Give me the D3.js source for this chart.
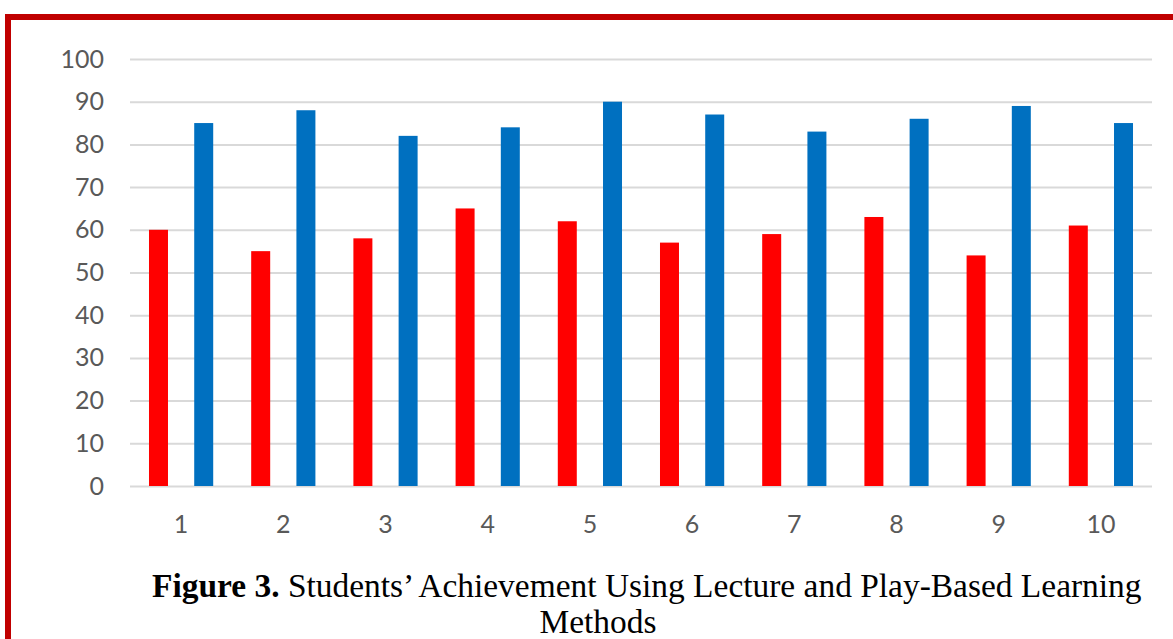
<!DOCTYPE html>
<html>
<head>
<meta charset="utf-8">
<script src="https://cdn.jsdelivr.net/npm/d3@7"></script>
<style>
  body { margin: 0; background: #fff; }
  svg { display: block; }
</style>
</head>
<body>
<svg width="1173" height="639"></svg>
<script>
// chart data
var students = ["1", "2", "3", "4", "5", "6", "7", "8", "9", "10"];
var lecture = [60, 55, 58, 65, 62, 57, 59, 63, 54, 61];
var playBased = [85, 88, 82, 84, 90, 87, 83, 86, 89, 85];
var yTicks = [0, 10, 20, 30, 40, 50, 60, 70, 80, 90, 100];

var svg = d3.select('svg');

svg.append('rect').attr('width', 1173).attr('height', 639).attr('fill', '#fff');

// dark red frame (top and left edges visible)
svg.append('line')
    .attr('x1', 5).attr('x2', 1173).attr('y1', 17).attr('y2', 17)
    .attr('stroke', '#c00000').attr('stroke-width', 6);
svg.append('line')
    .attr('x1', 8).attr('x2', 8).attr('y1', 14).attr('y2', 639)
    .attr('stroke', '#c00000').attr('stroke-width', 6);

var scaleX = d3.scaleBand().domain(students).range([130, 1152]);
var scaleSub = d3.scaleBand().domain(['lecture', 'play'])
    .range([0, scaleX.bandwidth()]).paddingInner(0.58).paddingOuter(0.42);
var scaleY = d3.scaleLinear().domain([0, 100]).range([486, 59]);

// gridlines + y labels
var yAxis = svg.append('g')
    .attr('transform', 'translate(130,0)')
    .call(d3.axisLeft(scaleY).tickValues(yTicks).tickSize(-1022).tickPadding(26));
yAxis.select('.domain').remove();
yAxis.selectAll('.tick line').attr('stroke', '#d9d9d9').attr('stroke-width', 2);
yAxis.selectAll('.tick text')
    .attr('fill', '#595959')
    .style('font-family', 'Lato, "Open Sans", sans-serif')
    .style('font-size', '25px');

// bars
var rows = students.map(function(s, i){
    return { id: s, lecture: lecture[i], play: playBased[i] };
});

svg.selectAll('.lectureBar')
    .data(rows)
    .enter()
    .append('rect')
    .attr('class', 'lectureBar')
    .attr('x', function(d){ return scaleX(d.id) + scaleSub('lecture'); })
    .attr('y', function(d){ return scaleY(d.lecture); })
    .attr('width', scaleSub.bandwidth())
    .attr('height', function(d){ return scaleY(0) - scaleY(d.lecture); })
    .attr('fill', '#ff0000');

svg.selectAll('.playBar')
    .data(rows)
    .enter()
    .append('rect')
    .attr('class', 'playBar')
    .attr('x', function(d){ return scaleX(d.id) + scaleSub('play'); })
    .attr('y', function(d){ return scaleY(d.play); })
    .attr('width', scaleSub.bandwidth())
    .attr('height', function(d){ return scaleY(0) - scaleY(d.play); })
    .attr('fill', '#0070c0');

// x labels
svg.selectAll('.xLabel')
    .data(students)
    .enter()
    .append('text')
    .attr('class', 'xLabel')
    .attr('x', function(d){ return scaleX(d) + scaleX.bandwidth() / 2; })
    .attr('y', 533)
    .attr('text-anchor', 'middle')
    .attr('fill', '#595959')
    .style('font-family', 'Lato, "Open Sans", sans-serif')
    .style('font-size', '25px')
    .text(function(d){ return d; });

// caption
var cap = svg.append('text')
    .attr('x', 152).attr('y', 597)
    .attr('fill', '#000')
    .style('font-family', '"Liberation Serif", serif')
    .style('font-size', '30px');
cap.append('tspan').attr('font-weight', 'bold').text('Figure 3.');
cap.append('tspan').text(' Students\u2019 Achievement Using Lecture and Play-Based Learning');

// fit the first caption line to its width in the picture
var w = cap.node().getComputedTextLength();
var fs = 30 * 990 / w;
cap.style('font-size', fs + 'px');

svg.append('text')
    .attr('x', 598).attr('y', 633)
    .attr('text-anchor', 'middle')
    .attr('fill', '#000')
    .style('font-family', '"Liberation Serif", serif')
    .style('font-size', fs + 'px')
    .text('Methods');
</script>
</body>
</html>
